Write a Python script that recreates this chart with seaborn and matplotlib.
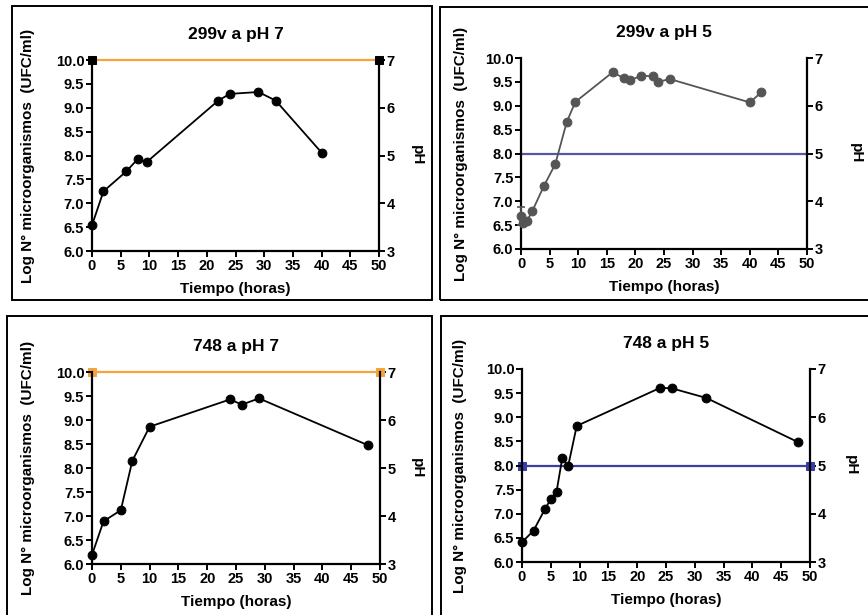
import numpy as np
import pandas as pd
import seaborn as sns
import matplotlib.pyplot as plt
from matplotlib.patches import Rectangle

# --- datos ---
t_299v_ph7 = [0, 2, 6, 8, 9.5, 22, 24, 29, 32, 40]
log_299v_ph7 = [6.54, 7.25, 7.67, 7.93, 7.86, 9.15, 9.29, 9.33, 9.15, 8.06]

t_299v_ph5 = [0, 0.4, 1, 2, 4, 6, 8, 9.5, 16, 18, 19, 21, 23, 24, 26, 40, 42]
log_299v_ph5 = [6.70, 6.55, 6.58, 6.80, 7.32, 7.78, 8.66, 9.08, 9.70, 9.58,
                9.53, 9.63, 9.62, 9.50, 9.56, 9.07, 9.28]
err_299v_ph5 = [0.19, 0, 0, 0, 0, 0, 0, 0, 0, 0, 0, 0, 0, 0, 0, 0, 0]

t_748_ph7 = [0, 2, 5, 7, 10, 24, 26, 29, 48]
log_748_ph7 = [6.19, 6.89, 7.12, 8.15, 8.86, 9.43, 9.32, 9.45, 8.47]

t_748_ph5 = [0, 2, 4, 5, 6, 7, 8, 9.5, 24, 26, 32, 48]
log_748_ph5 = [6.41, 6.65, 7.10, 7.30, 7.46, 8.16, 7.98, 8.82, 9.61, 9.60, 9.40, 8.48]

t_ph = [0, 50]
ph_7 = [7, 7]
ph_5 = [5, 5]

titles = ["299v a pH 7", "299v a pH 5", "748 a pH 7", "748 a pH 5"]
x_ticks = list(range(0, 51, 5))
y_ticks = [6.0, 6.5, 7.0, 7.5, 8.0, 8.5, 9.0, 9.5, 10.0]
ph_ticks = [3, 4, 5, 6, 7]

sns.set_theme(style="ticks")
plt.rcParams["font.family"] = ["Liberation Sans", "DejaVu Sans"]
plt.rcParams["font.weight"] = "bold"
plt.rcParams["axes.labelweight"] = "bold"
plt.rcParams["axes.titleweight"] = "bold"
plt.rcParams["text.color"] = "black"
plt.rcParams["axes.labelcolor"] = "black"
plt.rcParams["xtick.color"] = "black"
plt.rcParams["ytick.color"] = "black"

fig = plt.figure(figsize=(8.68, 6.15), dpi=100)

# marcos de cada panel (pixeles: x0, y0, x1, y1)
boxes = [(12, 6, 432, 300), (440, 7, 872, 300), (7, 316, 432, 620), (441, 316, 872, 620)]
for x0, y0, x1, y1 in boxes:
    fig.patches.append(Rectangle((x0 / 868, 1 - y1 / 615), (x1 - x0) / 868, (y1 - y0) / 615,
                                 transform=fig.transFigure, fill=False, lw=1.4,
                                 edgecolor="black"))

axes_px = [(92, 60, 379, 251), (521, 58, 807, 249), (92, 372, 380, 564), (522, 369, 810, 562)]
ylab_x = [-0.199, -0.185, -0.199, -0.19]
ph_x = [1.132, 1.171, 1.128, 1.142]

panels = [
    (t_299v_ph7, log_299v_ph7, None, "black", ph_7, "#F5A23F", "black"),
    (t_299v_ph5, log_299v_ph5, err_299v_ph5, "#555555", ph_5, "#5656A8", None),
    (t_748_ph7, log_748_ph7, None, "black", ph_7, "#F5A23F", "#F5A23F"),
    (t_748_ph5, log_748_ph5, None, "black", ph_5, "#3B3FA3", "#3B3FA3"),
]

for i, (t, y, err, col, ph, phcol, sqcol) in enumerate(panels):
    x0, y0, x1, y1 = axes_px[i]
    ax = fig.add_axes([x0 / 868, 1 - y1 / 615, (x1 - x0) / 868, (y1 - y0) / 615])
    ax2 = ax.twinx()

    sns.lineplot(x=t_ph, y=ph, ax=ax2, color=phcol, lw=1.6,
                 marker="s" if sqcol else None, markersize=6,
                 markerfacecolor=sqcol, markeredgecolor=sqcol, clip_on=False)

    if err is not None:
        ax.errorbar(t, y, yerr=err, fmt="none", ecolor=col, elinewidth=1.2,
                    capsize=3, capthick=1.2, clip_on=False, zorder=3)
    sns.lineplot(x=t, y=y, ax=ax, color=col, lw=1.3, marker="o", markersize=6.3,
                 markeredgecolor=col, markerfacecolor=col, clip_on=False,
                 estimator=None, sort=False, zorder=4)
    ax.set_zorder(ax2.get_zorder() + 1)
    ax.patch.set_visible(False)

    ax.set_xlim(0, 50)
    ax.set_ylim(6, 10)
    ax2.set_ylim(3, 7)
    ax.set_xticks(x_ticks)
    ax.set_yticks(y_ticks)
    ax.set_yticklabels([f"{v:.1f}" for v in y_ticks])
    ax2.set_yticks(ph_ticks)

    for a in (ax, ax2):
        a.tick_params(width=1.4, length=4, labelsize=10.5, color="black", pad=1.5)
        a.spines["top"].set_visible(False)
        for s in a.spines.values():
            s.set_linewidth(1.6)
            s.set_color("black")
    ax.spines["right"].set_visible(False)
    ax2.spines["left"].set_visible(False)
    ax2.spines["bottom"].set_visible(False)
    for lab in ax.get_xticklabels() + ax.get_yticklabels() + ax2.get_yticklabels():
        lab.set_fontweight("bold")

    ax.set_title(titles[i], fontsize=12.5, pad=15)
    ax.set_xlabel("Tiempo (horas)", fontsize=11)
    ax.xaxis.set_label_coords(0.5, -0.16)
    ax.set_ylabel("Log N° microorganismos  (UFC/ml)", fontsize=11)
    ax.yaxis.set_label_coords(ylab_x[i], 0.5)
    ax2.set_ylabel("")
    ax2.text(ph_x[i], 0.5, "pH", transform=ax2.transAxes, rotation=270,
             ha="center", va="center", fontsize=11, fontweight="bold")

fig.savefig("out.png", dpi=100)
